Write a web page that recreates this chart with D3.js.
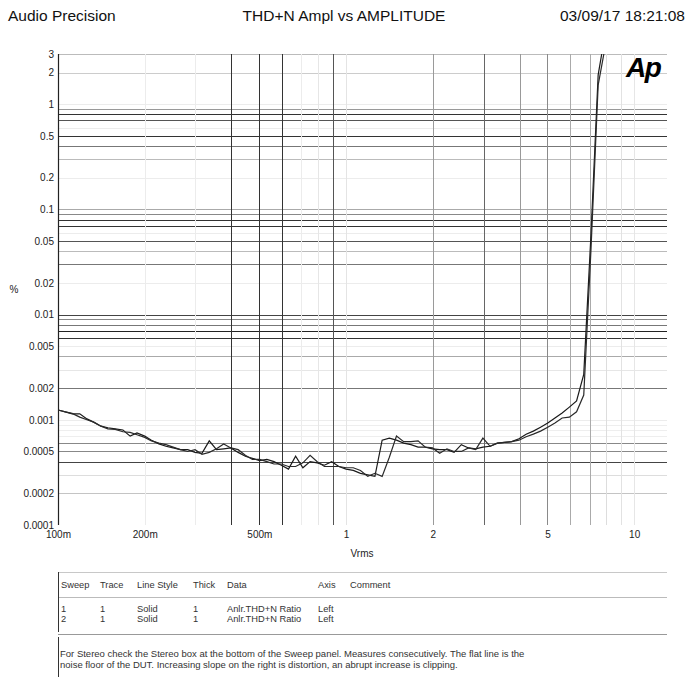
<!DOCTYPE html>
<html>
<head>
<meta charset="utf-8">
<script src="https://cdn.jsdelivr.net/npm/d3@7"></script>
<style>
  body { margin: 0; background: #fff; }
  svg { display: block; font-family: Arial, "Liberation Sans", sans-serif; }
</style>
</head>
<body>
<div id="chart"></div>
<script>
// sweep amplitude steps (Vrms)
const volts = [0.1, 0.106, 0.112, 0.119, 0.126, 0.133, 0.141, 0.149, 0.158, 0.168,
  0.178, 0.188, 0.2, 0.211, 0.224, 0.237, 0.251, 0.266, 0.282, 0.299,
  0.316, 0.335, 0.355, 0.376, 0.398, 0.422, 0.447, 0.473, 0.501, 0.531,
  0.562, 0.596, 0.631, 0.668, 0.708, 0.750, 0.794, 0.841, 0.891, 0.944,
  1.0, 1.059, 1.122, 1.189, 1.259, 1.334, 1.413, 1.496, 1.585, 1.679,
  1.778, 1.884, 1.995, 2.113, 2.239, 2.371, 2.512, 2.661, 2.818, 2.985,
  3.162, 3.350, 3.548, 3.758, 3.981, 4.217, 4.467, 4.732, 5.012, 5.309,
  5.623, 5.957, 6.310, 6.683, 7.079, 7.499, 7.943];

// THD+N ratio in %
const sweep1 = [0.00124, 0.00119, 0.00114, 0.00114, 0.00102, 0.00095, 0.00087, 0.00084, 0.00082, 0.00080,
  0.00070, 0.00075, 0.00070, 0.00064, 0.00059, 0.00056, 0.00054, 0.00052, 0.00052, 0.00049,
  0.00048, 0.00063, 0.00052, 0.00053, 0.00054, 0.00049, 0.00045, 0.00043, 0.00041, 0.00042,
  0.00040, 0.00037, 0.00034, 0.00045, 0.00035, 0.00040, 0.00039, 0.00037, 0.00040, 0.00036,
  0.00034, 0.00033, 0.00031, 0.00030, 0.00029, 0.00064, 0.00067, 0.00064, 0.00060, 0.00058,
  0.00055, 0.00055, 0.00053, 0.00052, 0.00052, 0.00049, 0.00058, 0.00054, 0.00053, 0.00055,
  0.00056, 0.00060, 0.00061, 0.00062, 0.00066, 0.00073, 0.00078, 0.00085, 0.00093, 0.00104,
  0.00116, 0.00132, 0.00151, 0.0027, 0.057, 1.9, 4.8];

const sweep2 = [0.00124, 0.00119, 0.00115, 0.00106, 0.00100, 0.00095, 0.00087, 0.00082, 0.00081, 0.00077,
  0.00076, 0.00072, 0.00068, 0.00063, 0.00060, 0.00058, 0.00055, 0.00052, 0.00050, 0.00052,
  0.00047, 0.00049, 0.00053, 0.00059, 0.00054, 0.00052, 0.00046, 0.00042, 0.00042, 0.00040,
  0.00038, 0.00038, 0.00036, 0.00036, 0.00039, 0.00046, 0.00040, 0.00036, 0.00036, 0.00036,
  0.00035, 0.00035, 0.00033, 0.00029, 0.00031, 0.00029, 0.00044, 0.00070, 0.00062, 0.00062,
  0.00063, 0.00055, 0.00054, 0.00048, 0.00053, 0.00050, 0.00050, 0.00054, 0.00052, 0.00067,
  0.00056, 0.00060, 0.00061, 0.00062, 0.00064, 0.00069, 0.00073, 0.00078, 0.00085, 0.00093,
  0.00104, 0.00106, 0.00119, 0.00172, 0.041, 1.52, 3.6];

const xTickValues = [0.1, 0.2, 0.5, 1, 2, 5, 10];
const xTickLabels = ["100m", "200m", "500m", "1", "2", "5", "10"];
const yTickValues = [3, 2, 1, 0.5, 0.2, 0.1, 0.05, 0.02, 0.01, 0.005, 0.002, 0.001, 0.0005, 0.0002, 0.0001];
const yTickLabels = ["3", "2", "1", "0.5", "0.2", "0.1", "0.05", "0.02", "0.01", "0.005", "0.002", "0.001", "0.0005", "0.0002", "0.0001"];

const headerLeft = "Audio Precision";
const headerTitle = "THD+N Ampl vs AMPLITUDE";
const headerDate = "03/09/17 18:21:08";

const tableHeaders = ["Sweep", "Trace", "Line Style", "Thick", "Data", "Axis", "Comment"];
const tableRows = [
  ["1", "1", "Solid", "1", "Anlr.THD+N Ratio", "Left", ""],
  ["2", "1", "Solid", "1", "Anlr.THD+N Ratio", "Left", ""]
];
const commentLines = [
  "For Stereo check the Stereo box at the bottom of the Sweep panel.  Measures consecutively.  The flat line is the",
  "noise floor of the DUT.  Increasing slope on the right is distortion, an abrupt increase is clipping."
];

// chart dimensions
const width = 687, height = 677;
const plot = { left: 58, right: 667, top: 54, bottom: 525 };

const svg = d3.select("#chart").append("svg")
  .attr("width", width)
  .attr("height", height);

svg.append("rect").attr("width", width).attr("height", height).attr("fill", "#fff");

const x = d3.scaleLog().domain([0.1, 13.0]).range([plot.left, plot.right]);
const y = d3.scaleLog().domain([0.0001, 3]).range([plot.bottom, plot.top]);

// the scanned grid renders every line in a different grey, keep that look
const key = v => String(+v.toPrecision(1));
const xShade = { "0.2": "#ececec", "0.3": "#ececec", "0.4": "#333", "0.5": "#333", "0.6": "#333",
  "0.7": "#ececec", "0.8": "#e6e6e6", "0.9": "#555", "1": "#e4e4e4", "2": "#9a9a9a", "3": "#666",
  "4": "#999", "5": "#8a8a8a", "6": "#aaa", "7": "#aaa", "8": "#ddd", "9": "#e2e2e2", "10": "#e6e6e6" };
const yShade = { "3": "#bbb", "2": "#ccc", "1": "#ececec", "0.9": "#999", "0.8": "#333", "0.7": "#555",
  "0.6": "#ececec", "0.5": "#333", "0.4": "#777", "0.3": "#bbb", "0.2": "#ececec", "0.1": "#aaa",
  "0.09": "#888", "0.08": "#333", "0.07": "#333", "0.06": "#ececec", "0.05": "#555", "0.04": "#bbb",
  "0.03": "#777", "0.02": "#ececec", "0.01": "#444", "0.009": "#888", "0.008": "#777", "0.007": "#222",
  "0.006": "#333", "0.005": "#ececec", "0.004": "#aaa", "0.003": "#e6e6e6", "0.002": "#777",
  "0.001": "#ececec", "0.0006": "#888", "0.0005": "#888", "0.0004": "#444", "0.0003": "#ddd",
  "0.0002": "#c4c4c4", "0.0001": "#fff" };

// light lines first, dark lines on top
const byShade = (m) => (a, b) => d3.descending(d3.hsl(m[key(a)] || "#eee").l, d3.hsl(m[key(b)] || "#eee").l);

svg.append("g").selectAll("line")
  .data(y.ticks().sort(byShade(yShade)))
  .enter().append("line")
    .attr("x1", plot.left).attr("x2", plot.right)
    .attr("y1", d => Math.round(y(d)) + 0.5).attr("y2", d => Math.round(y(d)) + 0.5)
    .attr("stroke", d => yShade[key(d)] || "#eee");

svg.append("g").selectAll("line")
  .data(x.ticks().filter(d => d > 0.1).sort(byShade(xShade)))
  .enter().append("line")
    .attr("x1", d => Math.round(x(d)) + 0.5).attr("x2", d => Math.round(x(d)) + 0.5)
    .attr("y1", plot.top).attr("y2", plot.bottom)
    .attr("stroke", d => xShade[key(d)] || "#eee");

// left axis line
svg.append("line")
  .attr("x1", plot.left + 0.5).attr("x2", plot.left + 0.5)
  .attr("y1", plot.top).attr("y2", plot.bottom)
  .attr("stroke", "#222").attr("stroke-width", 1.2);

// curves
svg.append("clipPath").attr("id", "clip")
  .append("rect")
    .attr("x", plot.left).attr("y", plot.top)
    .attr("width", plot.right - plot.left).attr("height", plot.bottom - plot.top);

const line = d3.line()
  .x((d, i) => x(volts[i]))
  .y(d => y(d));

[sweep1, sweep2].forEach((s, k) => {
  svg.append("path")
    .datum(s)
    .attr("clip-path", "url(#clip)")
    .attr("fill", "none")
    .attr("stroke", k === 0 ? "#1a1a1a" : "#2a2a2a")
    .attr("stroke-width", 1.2)
    .attr("stroke-linejoin", "miter")
    .attr("d", line);
});

// axes (labels only)
const yAxis = svg.append("g")
  .attr("transform", `translate(${plot.left - 4}, 0)`)
  .call(d3.axisLeft(y).tickValues(yTickValues).tickSize(0).tickPadding(0)
    .tickFormat((d, i) => yTickLabels[i]));
yAxis.select(".domain").remove();
yAxis.selectAll("text").attr("font-size", 10).attr("fill", "#222").attr("font-family", "Arial, 'Liberation Sans', sans-serif");

const xAxis = svg.append("g")
  .attr("transform", `translate(0, ${plot.bottom + 6})`)
  .call(d3.axisBottom(x).tickValues(xTickValues).tickSize(0).tickPadding(0)
    .tickFormat((d, i) => xTickLabels[i]));
xAxis.select(".domain").remove();
xAxis.selectAll("text").attr("font-size", 10).attr("fill", "#222").attr("font-family", "Arial, 'Liberation Sans', sans-serif");

svg.append("text")
  .attr("x", 362).attr("y", 557)
  .attr("text-anchor", "middle")
  .attr("font-size", 10).attr("fill", "#222")
  .text("Vrms");

svg.append("text")
  .attr("x", 14).attr("y", 293)
  .attr("text-anchor", "middle")
  .attr("font-size", 10).attr("fill", "#222")
  .text("%");

// header
svg.append("text").attr("x", 8).attr("y", 21)
  .attr("font-size", 15.5).attr("fill", "#111").text(headerLeft);
svg.append("text").attr("x", 344).attr("y", 21).attr("text-anchor", "middle")
  .attr("font-size", 15.5).attr("fill", "#111").text(headerTitle);
svg.append("text").attr("x", 560).attr("y", 21)
  .attr("font-size", 15.5).attr("fill", "#111").text(headerDate);

// Ap logo
svg.append("text").attr("x", 626).attr("y", 77)
  .attr("font-size", 28).attr("font-weight", "bold").attr("font-style", "italic")
  .attr("letter-spacing", -1.5).attr("fill", "#000")
  .text("Ap");

// legend table
const colX = [61, 100, 137, 193, 227, 318, 350];
const table = svg.append("g").attr("font-size", 9.3).attr("fill", "#333");

table.append("line").attr("x1", 58).attr("x2", 667).attr("y1", 572.5).attr("y2", 572.5).attr("stroke", "#c8c8c8");
table.append("line").attr("x1", 58).attr("x2", 667).attr("y1", 597.5).attr("y2", 597.5).attr("stroke", "#bbb");
table.append("line").attr("x1", 58).attr("x2", 667).attr("y1", 634.5).attr("y2", 634.5).attr("stroke", "#999");
table.append("line").attr("x1", 58.5).attr("x2", 58.5).attr("y1", 572).attr("y2", 632).attr("stroke", "#333");
table.append("line").attr("x1", 58.5).attr("x2", 58.5).attr("y1", 637).attr("y2", 677).attr("stroke", "#333");

table.selectAll(".hdr")
  .data(tableHeaders)
  .enter().append("text")
    .attr("class", "hdr")
    .attr("x", (d, i) => colX[i]).attr("y", 587.5)
    .text(d => d);

tableRows.forEach((row, r) => {
  table.selectAll(".row" + r)
    .data(row)
    .enter().append("text")
      .attr("class", "row" + r)
      .attr("x", (d, i) => colX[i]).attr("y", 611.5 + r * 10.5)
      .text(d => d);
});

table.selectAll(".cmt")
  .data(commentLines)
  .enter().append("text")
    .attr("class", "cmt")
    .attr("x", 60).attr("y", (d, i) => 657 + i * 11)
    .attr("font-size", 9.5)
    .text(d => d);
</script>
</body>
</html>
